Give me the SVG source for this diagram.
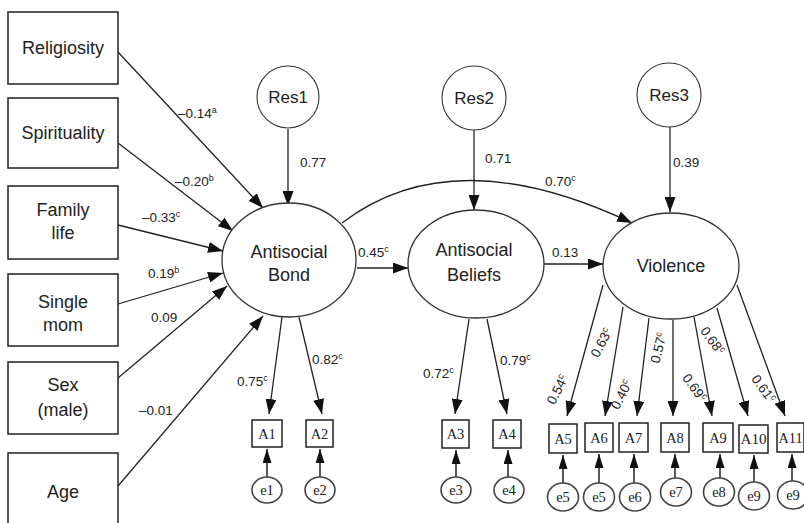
<svg xmlns="http://www.w3.org/2000/svg" width="804" height="523" viewBox="0 0 804 523">
<defs>
<marker id="ah" markerWidth="15" markerHeight="11" refX="15" refY="5.5" orient="auto" markerUnits="userSpaceOnUse"><path d="M0,0 L15,5.5 L0,11 z" fill="#111"/></marker>
<marker id="ahs" markerWidth="14" markerHeight="9" refX="14" refY="4.5" orient="auto" markerUnits="userSpaceOnUse"><path d="M0,0 L14,4.5 L0,9 z" fill="#111"/></marker>
<style>
.box{fill:#fff;stroke:#222;stroke-width:1.5}
.lat{fill:#fff;stroke:#333;stroke-width:1.3}
.res{fill:#fff;stroke:#333;stroke-width:1.1}
.ind{fill:#fff;stroke:#222;stroke-width:1.5}
.err{fill:#fff;stroke:#444;stroke-width:1.6}
.t{font-family:"Liberation Sans",Arial,sans-serif;font-size:18px;fill:#222;text-anchor:middle}
.r{font-family:"Liberation Sans",Arial,sans-serif;font-size:17px;fill:#222;text-anchor:middle}
.s{font-family:"Liberation Serif","Times New Roman",serif;font-size:14.5px;fill:#222;text-anchor:middle}
.l{font-family:"Liberation Sans",Arial,sans-serif;font-size:13.5px;fill:#222}
.lm{font-family:"Liberation Sans",Arial,sans-serif;font-size:13.5px;fill:#222;text-anchor:middle}
.c{fill:none;stroke:#222;stroke-width:1.3;marker-end:url(#ah)}
.ce{fill:none;stroke:#222;stroke-width:1.5;marker-end:url(#ahs)}
</style>
</defs>
<rect width="804" height="523" fill="#fff"/>

<g id="connectors">
<line class="c" x1="118" y1="52" x2="263" y2="208"/>
<line class="c" x1="118" y1="143" x2="233" y2="231"/>
<line class="c" x1="118" y1="225" x2="223" y2="251"/>
<line class="c" x1="118" y1="304" x2="223" y2="273"/>
<line class="c" x1="118" y1="378" x2="227" y2="286"/>
<line class="c" x1="118" y1="486" x2="263" y2="316"/>
<line class="c" x1="288" y1="129" x2="288" y2="206"/>
<line class="c" x1="474" y1="130" x2="474" y2="210"/>
<line class="c" x1="670" y1="127" x2="670" y2="212"/>
<path class="c" d="M342,223 Q453,138 632,223"/>
<line class="c" x1="357" y1="268" x2="408" y2="268"/>
<line class="c" x1="544" y1="264" x2="603" y2="264"/>
<line class="c" x1="282" y1="317" x2="269" y2="414"/>
<line class="c" x1="299" y1="317" x2="322" y2="414"/>
<line class="c" x1="469" y1="319" x2="455" y2="414"/>
<line class="c" x1="487" y1="319" x2="507" y2="414"/>
<line class="c" x1="603" y1="285" x2="567" y2="416"/>
<line class="c" x1="623" y1="307" x2="605" y2="416"/>
<line class="c" x1="649" y1="318" x2="637" y2="416"/>
<line class="c" x1="673" y1="320" x2="673" y2="416"/>
<line class="c" x1="694" y1="317" x2="712" y2="416"/>
<line class="c" x1="717" y1="308" x2="748" y2="416"/>
<line class="c" x1="737" y1="285" x2="785" y2="416"/>
<line class="ce" x1="267" y1="477" x2="267" y2="449"/>
<line class="ce" x1="320" y1="477" x2="320" y2="449"/>
<line class="ce" x1="456" y1="477" x2="456" y2="450"/>
<line class="ce" x1="508" y1="477" x2="508" y2="450"/>
<line class="ce" x1="563" y1="483" x2="563" y2="455"/>
<line class="ce" x1="599" y1="483" x2="599" y2="454"/>
<line class="ce" x1="634" y1="483" x2="634" y2="454"/>
<line class="ce" x1="675" y1="478" x2="675" y2="454"/>
<line class="ce" x1="720" y1="478" x2="720" y2="454"/>
<line class="ce" x1="754" y1="482" x2="754" y2="455"/>
<line class="ce" x1="792" y1="481" x2="792" y2="454"/>
</g>

<g id="labels">
<text class="l" x="178" y="118">–0.14<tspan font-size="9" dy="-5">a</tspan></text>
<text class="l" x="175" y="186">–0.20<tspan font-size="9" dy="-5">b</tspan></text>
<text class="l" x="142" y="222">–0.33<tspan font-size="9" dy="-5">c</tspan></text>
<text class="l" x="148" y="278">0.19<tspan font-size="9" dy="-5">b</tspan></text>
<text class="l" x="151" y="322">0.09</text>
<text class="l" x="139" y="415">–0.01</text>
<text class="l" x="300" y="167">0.77</text>
<text class="l" x="485" y="163">0.71</text>
<text class="l" x="673" y="167">0.39</text>
<text class="l" x="545" y="186">0.70<tspan font-size="9" dy="-5">c</tspan></text>
<text class="l" x="358" y="257">0.45<tspan font-size="9" dy="-5">c</tspan></text>
<text class="l" x="552" y="257">0.13</text>
<text class="l" x="237" y="386">0.75<tspan font-size="9" dy="-5">c</tspan></text>
<text class="l" x="312" y="364">0.82<tspan font-size="9" dy="-5">c</tspan></text>
<text class="l" x="423" y="378">0.72<tspan font-size="9" dy="-5">c</tspan></text>
<text class="l" x="500" y="365">0.79<tspan font-size="9" dy="-5">c</tspan></text>
<text class="lm" x="558" y="394" transform="rotate(-63 558 390)">0.54<tspan font-size="9" dy="-5">c</tspan></text>
<text class="lm" x="602" y="347" transform="rotate(-62 602 343)">0.63<tspan font-size="9" dy="-5">c</tspan></text>
<text class="lm" x="622" y="399" transform="rotate(-63 622 395)">0.40<tspan font-size="9" dy="-5">c</tspan></text>
<text class="lm" x="659" y="352" transform="rotate(-76 659 348)">0.57<tspan font-size="9" dy="-5">c</tspan></text>
<text class="lm" x="694" y="392" transform="rotate(54 694 388)">0.69<tspan font-size="9" dy="-5">c</tspan></text>
<text class="lm" x="712" y="345" transform="rotate(54 712 341)">0.68<tspan font-size="9" dy="-5">c</tspan></text>
<text class="lm" x="763" y="393" transform="rotate(54 763 389)">0.61<tspan font-size="9" dy="-5">c</tspan></text>
</g>

<g id="religiosity"><rect class="box" x="8" y="12" width="110" height="72"/><text class="t" x="63" y="54">Religiosity</text></g>
<g id="spirituality"><rect class="box" x="8" y="98" width="110" height="70"/><text class="t" x="63" y="139">Spirituality</text></g>
<g id="family-life"><rect class="box" x="8" y="186" width="110" height="73"/><text class="t" x="63" y="216">Family</text><text class="t" x="63" y="239">life</text></g>
<g id="single-mom"><rect class="box" x="8" y="274" width="110" height="72"/><text class="t" x="63" y="308">Single</text><text class="t" x="63" y="331">mom</text></g>
<g id="sex-male"><rect class="box" x="8" y="362" width="110" height="72"/><text class="t" x="63" y="391">Sex</text><text class="t" x="63" y="416">(male)</text></g>
<g id="age"><rect class="box" x="8" y="453" width="110" height="80"/><text class="t" x="63" y="498">Age</text></g>

<g id="res1"><circle class="res" cx="288" cy="97" r="31"/><text class="r" x="288" y="103">Res1</text></g>
<g id="res2"><circle class="res" cx="474" cy="98" r="32"/><text class="r" x="474" y="104">Res2</text></g>
<g id="res3"><circle class="res" cx="669" cy="95" r="32"/><text class="r" x="669" y="101">Res3</text></g>

<g id="antisocial-bond"><ellipse class="lat" cx="289" cy="260" rx="67" ry="57"/><text class="t" x="289" y="258">Antisocial</text><text class="t" x="289" y="281">Bond</text></g>
<g id="antisocial-beliefs"><ellipse class="lat" cx="476" cy="264" rx="68" ry="54"/><text class="t" x="474" y="256">Antisocial</text><text class="t" x="474" y="281">Beliefs</text></g>
<g id="violence"><ellipse class="lat" cx="671" cy="266" rx="68" ry="53"/><text class="t" x="671" y="272">Violence</text></g>

<g id="A1"><rect class="ind" x="252" y="420" width="30" height="27"/><text class="s" x="267" y="438.5">A1</text></g>
<g id="A2"><rect class="ind" x="306" y="420" width="27" height="27"/><text class="s" x="319.5" y="438.5">A2</text></g>
<g id="A3"><rect class="ind" x="442" y="420" width="27" height="28"/><text class="s" x="455.5" y="439">A3</text></g>
<g id="A4"><rect class="ind" x="493" y="420" width="28" height="28"/><text class="s" x="507" y="439">A4</text></g>
<g id="A5"><rect class="ind" x="549" y="424" width="28" height="29"/><text class="s" x="563" y="443.5">A5</text></g>
<g id="A6"><rect class="ind" x="585" y="423" width="28" height="29"/><text class="s" x="599" y="442.5">A6</text></g>
<g id="A7"><rect class="ind" x="619" y="423" width="29" height="29"/><text class="s" x="633.5" y="442.5">A7</text></g>
<g id="A8"><rect class="ind" x="661" y="423" width="28" height="29"/><text class="s" x="675" y="442.5">A8</text></g>
<g id="A9"><rect class="ind" x="703" y="423" width="30" height="29"/><text class="s" x="718" y="442.5">A9</text></g>
<g id="A10"><rect class="ind" x="739" y="425" width="29" height="28"/><text class="s" x="753.5" y="444" textLength="26" lengthAdjust="spacingAndGlyphs">A10</text></g>
<g id="A11"><rect class="ind" x="777" y="423" width="27" height="29"/><text class="s" x="790.5" y="442.5" textLength="24" lengthAdjust="spacingAndGlyphs">A11</text></g>

<g id="e1"><ellipse class="err" cx="267" cy="490" rx="15" ry="13"/><text class="s" x="267" y="495">e1</text></g>
<g id="e2"><ellipse class="err" cx="320" cy="490" rx="15" ry="13"/><text class="s" x="320" y="495">e2</text></g>
<g id="e3"><ellipse class="err" cx="456" cy="490" rx="15" ry="13"/><text class="s" x="456" y="495">e3</text></g>
<g id="e4"><ellipse class="err" cx="509" cy="490" rx="15" ry="13"/><text class="s" x="509" y="495">e4</text></g>
<g id="e5a"><ellipse class="err" cx="563" cy="497" rx="15.5" ry="14"/><text class="s" x="563" y="502">e5</text></g>
<g id="e5b"><ellipse class="err" cx="599" cy="497" rx="15.5" ry="14"/><text class="s" x="599" y="502">e5</text></g>
<g id="e6"><ellipse class="err" cx="635" cy="497" rx="15.5" ry="14"/><text class="s" x="635" y="502">e6</text></g>
<g id="e7"><ellipse class="err" cx="676" cy="492" rx="15.5" ry="14"/><text class="s" x="676" y="497">e7</text></g>
<g id="e8"><ellipse class="err" cx="719" cy="492" rx="15.5" ry="14"/><text class="s" x="719" y="497">e8</text></g>
<g id="e9a"><ellipse class="err" cx="754" cy="496" rx="15.5" ry="14"/><text class="s" x="754" y="501">e9</text></g>
<g id="e9b"><ellipse class="err" cx="793" cy="495" rx="15.5" ry="14"/><text class="s" x="793" y="500">e9</text></g>
</svg>
